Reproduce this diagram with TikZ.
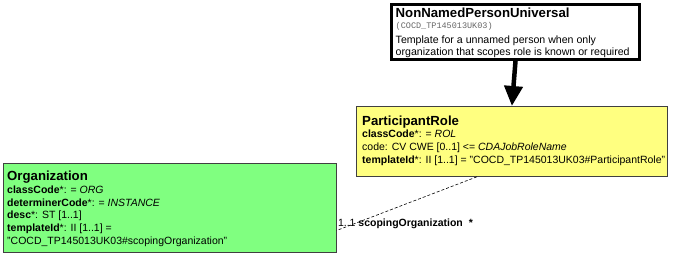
\documentclass[tikz,border=0pt]{standalone}
\usepackage{fontspec}
\setmainfont{Liberation Sans}
\newfontfamily\codefont{Liberation Mono}
\usetikzlibrary{arrows.meta,positioning}

\definecolor{roleyellow}{RGB}{255,255,128}
\definecolor{orggreen}{RGB}{128,255,128}

\begin{document}
\begin{tikzpicture}[x=1pt, y=-1pt]
  \tikzset{ classbox/.style={rectangle, draw=black!75, line width=0.8pt, anchor=north west, inner sep=0pt},
            boxtext/.style={anchor=north west, inner sep=0pt, align=left, font=\fontsize{10.5}{12.9}\selectfont},
            link/.style={line width=0.6pt, dash pattern=on 3pt off 2pt},
            arrow/.style={-{Triangle[width=18pt,length=20pt]}, line width=4.5pt}}
  \newcommand{\boxtitle}[1]{{\fontsize{13.2}{14}\selectfont\bfseries #1}}
  \useasboundingbox (0,0) rectangle (674,254);

  % boxes
  \node[classbox, draw=black, line width=3pt, fill=white, minimum width=248pt, minimum height=55pt] (universal) at (390,3) {};
  \node[classbox, fill=roleyellow, minimum width=311pt, minimum height=70pt] (role) at (356,106) {};
  \node[classbox, fill=orggreen, minimum width=333pt, minimum height=89pt] (org) at (3,163) {};

  % box texts
  \node[boxtext, font=\fontsize{10.6}{12.2}\selectfont] (universaltext) at ([xshift=5.5pt, yshift=-5.2pt]universal.north west) {%
    \boxtitle{NonNamedPersonUniversal}\\[-1.5pt]
    {\codefont\fontsize{8.5}{9}\selectfont\color{black!60}(COCD\_TP145013UK03)}\\[2.5pt]
    Template for a unnamed person when only\\
    organization that scopes role is known or required};
  \node[boxtext] (roletext) at ([xshift=6pt, yshift=-9.5pt]role.north west) {%
    \boxtitle{ParticipantRole}\\[-0.5pt]
    \textbf{classCode}*: = \textit{ROL}\\
    code: CV CWE [0..1] <= \textit{CDAJobRoleName}\\
    \textbf{templateId}*: II [1..1] = "COCD\_TP145013UK03\#ParticipantRole"};
  \node[boxtext] (orgtext) at ([xshift=4pt, yshift=-7.5pt]org.north west) {%
    \boxtitle{Organization}\\
    \textbf{classCode}*: = \textit{ORG}\\
    \textbf{determinerCode}*: = \textit{INSTANCE}\\
    \textbf{desc}*: ST [1..1]\\
    \textbf{templateId}*: II [1..1] =\\
    "COCD\_TP145013UK03\#scopingOrganization"};

  % connectors
  \draw[arrow] (universal.south) -- (role.north);
  \coordinate (rolefoot) at ([xshift=-35pt]role.south);
  \coordinate (orgend) at ([yshift=-22.5pt]org.east);
  \draw[link] (rolefoot) -- (orgend);
  \node[anchor=base west, inner sep=0pt, font=\fontsize{10.5}{12}\selectfont] (scoping) at ([xshift=1pt, yshift=4pt]orgend) {1..1 \textbf{scopingOrganization}\hspace{6pt}\textbf{*}};
\end{tikzpicture}
\end{document}
